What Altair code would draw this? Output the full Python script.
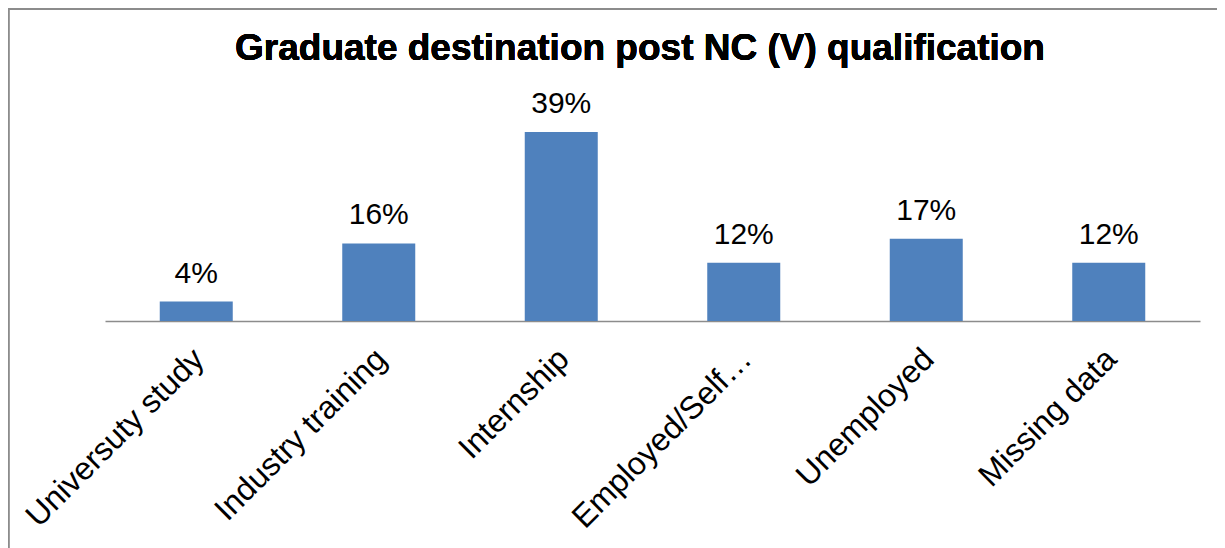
import altair as alt
import pandas as pd

categories = ["Universuty study", "Industry training", "Internship",
              "Employed/Self…", "Unemployed", "Missing data"]
values = [4, 16, 39, 12, 17, 12]
labels = ["4%", "16%", "39%", "12%", "17%", "12%"]
title_text = "Graduate destination post NC (V) qualification"

df = pd.DataFrame({"cat": categories, "val": values, "lab": labels})

FONT = "Liberation Sans"

x = alt.X("cat:N", sort=categories, title=None,
          scale=alt.Scale(paddingInner=0.6, paddingOuter=0.3),
          axis=alt.Axis(labelAngle=-45, labelFontSize=32, labelColor="black",
                        labelFont=FONT, ticks=False, labelPadding=22,
                        labelAlign="right", labelBaseline="top", labelOffset=-8,
                        domainColor="#8c8c8c", domainWidth=1.5, labelLimit=600))
y = alt.Y("val:Q", scale=alt.Scale(domain=[0, 45]), axis=None)

bars = alt.Chart(df).mark_bar(color="#4F81BD").encode(x=x, y=y)
text = alt.Chart(df).mark_text(fontSize=30, font=FONT, baseline="alphabetic",
                               dy=-19, color="black").encode(x=x, y=y, text="lab:N")

title = alt.Chart(df).mark_text(fontSize=37, font=FONT, fontWeight="bold",
                                color="black", baseline="alphabetic", align="center").encode(
    x=alt.value(535), y=alt.value(-43), text=alt.value(title_text))

left_border = alt.Chart(df).mark_rule(color="#8c8c8c", strokeWidth=1.5).encode(
    x=alt.value(-96.5), y=alt.value(-94), y2=alt.value(500))
top_border = alt.Chart(df).mark_rule(color="#8c8c8c", strokeWidth=1.5).encode(
    x=alt.value(-97), x2=alt.value(1200), y=alt.value(-94))

chart = alt.layer(bars, text, title, left_border, top_border).properties(
    width=1095, height=218,
    autosize=alt.AutoSizeParams(type="none"),
    padding={"left": 97, "top": 95, "right": 17, "bottom": 227},
).configure(background="white", view=alt.ViewConfig(stroke=None))

chart.save("out.html", embed_options={"renderer": "svg", "actions": False})
